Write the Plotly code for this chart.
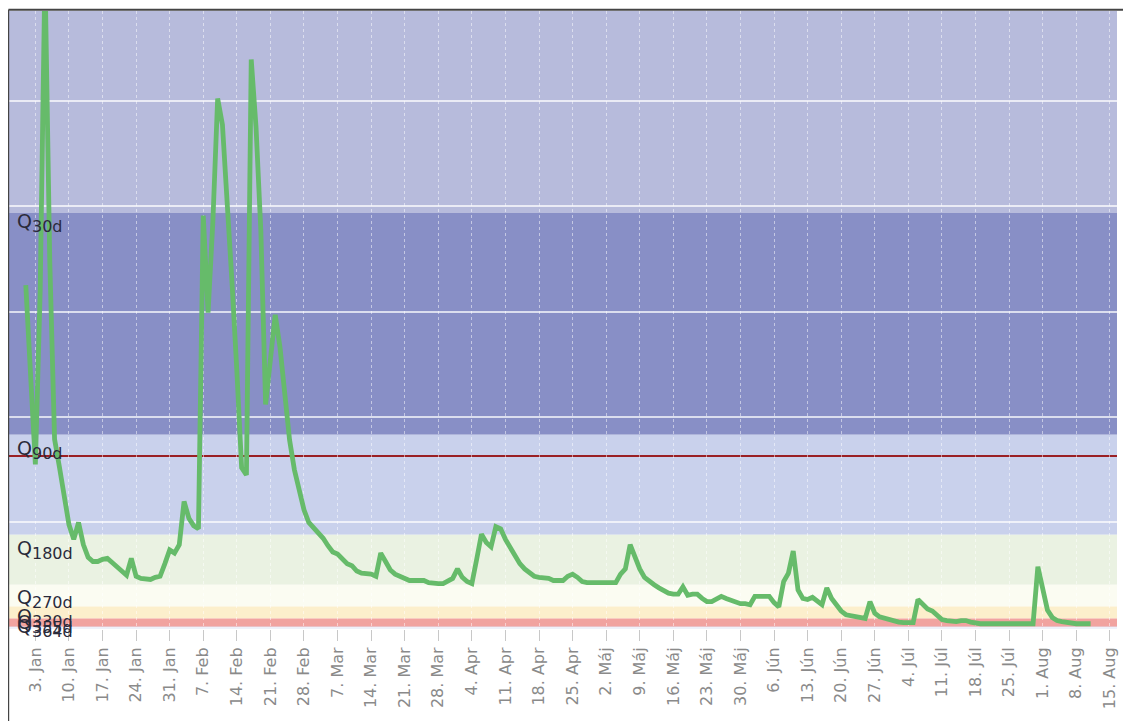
import plotly.graph_objects as go
import pandas as pd

# ---- data (daily discharge) ----
start_date = "2011-01-01"
jan = [3.25, 2.40, 1.55, 3.20, 6.23, 3.48, 1.79, 1.53, 1.22, 0.98, 0.84, 1.00, 0.79, 0.67, 0.63, 0.63,
       0.65, 0.66, 0.62, 0.58, 0.54, 0.50, 0.66, 0.49, 0.47, 0.46, 0.46, 0.48, 0.49, 0.61, 0.74]
feb = [0.71, 0.79, 1.20, 1.04, 0.97, 0.94, 3.91, 2.99, 3.85, 5.02, 4.77, 4.10, 3.27, 2.44, 1.52, 1.45,
       5.39, 4.75, 3.77, 2.12, 2.54, 2.97, 2.66, 2.18, 1.78, 1.50, 1.29, 1.12]
mar = [1.00, 0.95, 0.89, 0.85, 0.78, 0.72, 0.70, 0.65, 0.61, 0.59, 0.54, 0.52, 0.52, 0.51, 0.49, 0.71,
       0.63, 0.55, 0.51, 0.49, 0.47, 0.45, 0.45, 0.45, 0.45, 0.43, 0.42, 0.42, 0.42, 0.44, 0.47]
apr = [0.56, 0.48, 0.44, 0.42, 0.65, 0.89, 0.81, 0.77, 0.96, 0.94, 0.84, 0.76, 0.68, 0.61, 0.56, 0.52,
       0.49, 0.48, 0.48, 0.47, 0.45, 0.45, 0.45, 0.49, 0.51, 0.48, 0.44, 0.43, 0.43, 0.43]
may = [0.43, 0.43, 0.43, 0.43, 0.51, 0.56, 0.79, 0.67, 0.56, 0.48, 0.44, 0.41, 0.38, 0.35, 0.33, 0.32,
       0.32, 0.39, 0.31, 0.32, 0.32, 0.28, 0.25, 0.25, 0.27, 0.30, 0.28, 0.26, 0.25, 0.23, 0.23]
jun = [0.22, 0.30, 0.30, 0.30, 0.30, 0.24, 0.20, 0.44, 0.52, 0.73, 0.36, 0.28, 0.27, 0.29, 0.25, 0.22,
       0.38, 0.28, 0.22, 0.16, 0.125, 0.115, 0.105, 0.10, 0.09, 0.25, 0.14, 0.105, 0.09, 0.075]
jul = [0.065, 0.055, 0.05, 0.05, 0.05, 0.27, 0.22, 0.18, 0.16, 0.125, 0.08, 0.07, 0.06, 0.06, 0.07, 0.07,
       0.055, 0.045, 0.04, 0.04, 0.04, 0.04, 0.04, 0.04, 0.04, 0.04, 0.04, 0.04, 0.04, 0.04, 0.58]
aug = [0.36, 0.17, 0.10, 0.07, 0.06, 0.05, 0.05, 0.04, 0.04, 0.04, 0.04]
flow = jan + feb + mar + apr + may + jun + jul + aug
dates = pd.date_range(start_date, periods=len(flow), freq="D")

# duration-curve thresholds (band limits)
band_subs = ["", "30d", "90d", "180d", "270d", "330d", "355d", "364d"]
band_lo = [3.935, 1.831, 0.883, 0.41, 0.204, 0.09, 0.012, -0.05]
band_hi = [7.0, 3.935, 1.831, 0.883, 0.41, 0.204, 0.09, 0.012]
band_colors = ["#b7bbdc", "#888fc6", "#c9d1ec", "#eaf2e2", "#fbfcf2", "#fcefcc", "#f1a3a0", "#c9d1ee"]
label_y = [None, 3.84, 1.69, 0.74, 0.27, 0.095, 0.04, -0.005]
red_line = 1.63

month_sk = ["Jan", "Feb", "Mar", "Apr", "Máj", "Jún", "Júl", "Aug"]
tick_dates = pd.date_range("2011-01-03", "2011-08-15", freq="7D")
tick_text = [f"{d.day}. {month_sk[d.month - 1]}" for d in tick_dates]

fig = go.Figure()
fig.add_trace(go.Scatter(x=dates, y=flow, mode="lines",
                         line=dict(color="#66bb6a", width=4.8, shape="linear"),
                         hoverinfo="skip", showlegend=False))

shapes = []
for lo, hi, c in zip(band_lo, band_hi, band_colors):
    shapes.append(dict(type="rect", xref="paper", yref="y", x0=0, x1=1, y0=lo, y1=hi,
                       fillcolor=c, line=dict(width=0), layer="below"))
shapes.append(dict(type="line", xref="paper", yref="y", x0=0, x1=1, y0=red_line, y1=red_line,
                   line=dict(color="#9a1f24", width=2), layer="between"))
# chart border (top & left)
shapes.append(dict(type="line", xref="paper", yref="paper", x0=-0.0005, x1=1.02, y0=1.002, y1=1.002,
                   line=dict(color="#444444", width=2)))
shapes.append(dict(type="line", xref="paper", yref="paper", x0=-0.0005, x1=-0.0005, y0=-0.2, y1=1.002,
                   line=dict(color="#444444", width=1.5)))

annotations = []
for sub, ly in zip(band_subs, label_y):
    if ly is None:
        continue
    txt = f"Q<sub><span style='font-size:16px'>{sub}</span></sub>"
    annotations.append(dict(text=txt, xref="paper", yref="y", x=0.005, y=ly,
                            xanchor="left", yanchor="middle", showarrow=False,
                            font=dict(family="DejaVu Sans", size=19, color="#2a2a3a")))

fig.update_layout(
    width=1123, height=713,
    margin=dict(l=1, r=14, t=3, b=92),
    paper_bgcolor="white", plot_bgcolor="white",
    shapes=shapes, annotations=annotations,
    showlegend=False,
    xaxis=dict(range=["2010-12-28 12:00", "2011-08-16 12:00"],
               tickvals=tick_dates, ticktext=tick_text, tickangle=-90,
               ticks="outside", ticklen=11, tickcolor="#c8c8c8", tickwidth=1,
               showgrid=True, gridcolor="rgba(255,255,255,0.5)", griddash="dot", gridwidth=1.2,
               tickfont=dict(family="DejaVu Sans", size=16, color="#8a8a8a"),
               showline=False, zeroline=False, fixedrange=True),
    yaxis=dict(range=[-0.01, 5.85], dtick=1, tick0=0, showticklabels=False,
               showgrid=True, gridcolor="rgba(255,255,255,0.7)", gridwidth=2,
               zeroline=False, showline=False, fixedrange=True),
)

fig.write_html("out.html")
